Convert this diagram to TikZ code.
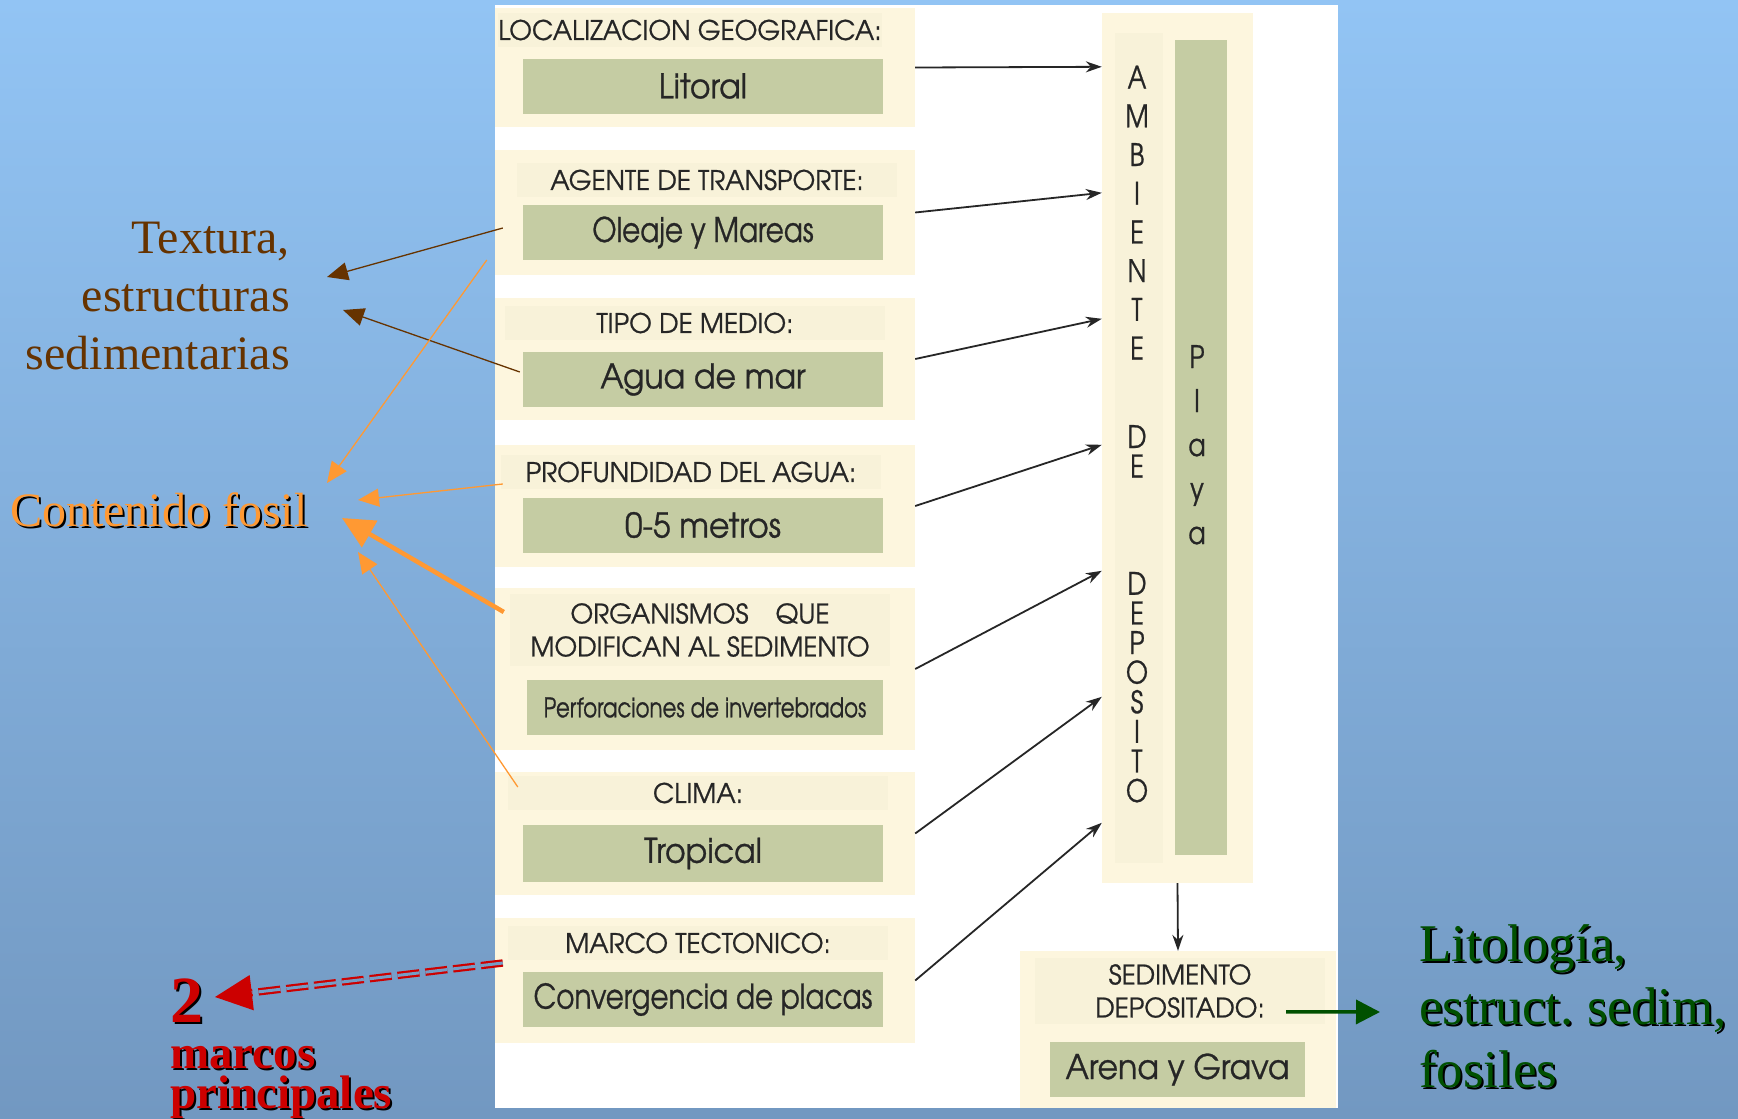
\documentclass[tikz,border=0pt]{standalone}
\usepackage{fontspec}
\setmainfont{Liberation Serif}
\newfontfamily\boxfont[FakeStretch=0.82, FakeBold=0.8]{TeX Gyre Adventor}
\newfontfamily\widefont[FakeStretch=0.93, FakeBold=0.8]{TeX Gyre Adventor}
\newfontfamily\headfont[FakeStretch=0.97, FakeBold=0.8]{TeX Gyre Adventor}
\newfontfamily\smallfont[FakeStretch=0.79, FakeBold=0.8]{TeX Gyre Adventor}
\usetikzlibrary{arrows.meta,calc}
\definecolor{creamc}{RGB}{253,246,222}
\definecolor{headc}{RGB}{248,242,217}
\definecolor{greenc}{RGB}{197,204,163}
\definecolor{brownc}{RGB}{102,51,0}
\definecolor{orangec}{RGB}{255,153,51}
\definecolor{redc}{RGB}{204,0,0}
\definecolor{dgreen}{RGB}{0,80,0}
\definecolor{bgtop}{RGB}{146,196,244}
\definecolor{bgbot}{RGB}{114,152,193}
\definecolor{bgred}{RGB}{117,157,198}
\newcommand{\shad}[1]{\leavevmode\rlap{\kern2pt\raisebox{-2pt}[0pt][0pt]{\color{black}#1}}#1}
\tikzset{
  cream/.style={fill=creamc, minimum width=420, inner sep=0},
  head/.style={fill=headc, minimum width=380, minimum height=34, inner sep=0, align=center,
    text=black!85, font=\headfont\fontsize{27}{33}\selectfont},
  field/.style={fill=greenc, minimum width=360, minimum height=55, inner sep=0,
    text=black!85, font=\widefont\fontsize{34}{34}\selectfont},
  vert/.style={inner sep=0, align=center, text=black!85},
  link/.style={-{Stealth[length=16,width=11]}, line width=1.8, black!85},
  note/.style={-{Triangle[length=21,width=18]}, line width=1.3},
}
\begin{document}
\begin{tikzpicture}[x=1pt,y=-1pt]
  \shade[top color=bgtop, bottom color=bgbot] (0,0) rectangle (1738,1118);
  \fill[white] (495,5) rectangle (1338,1108);

  \node[cream, minimum height=119] (loc) at (705,67.5) {};
  \node[head] (loch) at (690,30) {LOCALIZACION GEOGRAFICA:};
  \node[field] (locf) at (703,86) {Litoral};
  \node[cream, minimum height=125] (agen) at (705,212.5) {};
  \node[head] (agenh) at (707,180) {AGENTE DE TRANSPORTE:};
  \node[field, font=\boxfont\fontsize{34}{34}\selectfont] (agenf) at (703,232.5) {Oleaje y Mareas};
  \node[cream, minimum height=122] (medio) at (705,359) {};
  \node[head] (medioh) at (695,323) {TIPO DE MEDIO:};
  \node[field] (mediof) at (703,379.5) {Agua de mar};
  \node[cream, minimum height=122] (prof) at (705,506) {};
  \node[head] (profh) at (691,472) {PROFUNDIDAD DEL AGUA:};
  \node[field] (proff) at (703,525) {0-5 metros};
  \node[cream, minimum height=162] (org) at (705,669) {};
  \node[head, minimum height=72] (orgh) at (700,630) {ORGANISMOS\quad QUE\\MODIFICAN AL SEDIMENTO};
  \node[field, minimum width=356, font=\smallfont\fontsize{27}{27}\selectfont] (orgf) at (705,707.5) {Perforaciones de invertebrados};
  \node[cream, minimum height=123] (clima) at (705,833.5) {};
  \node[head] (climah) at (698,793) {CLIMA:};
  \node[field, minimum height=57] (climaf) at (703,853.5) {Tropical};
  \node[cream, minimum height=125] (marco) at (705,980.5) {};
  \node[head] (marcoh) at (698,943) {MARCO TECTONICO:};
  \node[field, font=\boxfont\fontsize{34}{34}\selectfont] (marcof) at (703,999.5) {Convergencia de placas};

  \node[cream, minimum width=151, minimum height=870] (amb) at (1177.5,448) {};
  \node[fill=headc, minimum width=48, minimum height=830, inner sep=0] (ambs) at (1139,448) {};
  \node[fill=greenc, minimum width=52, minimum height=815, inner sep=0] (playa) at (1201,447.5) {};
  \node[vert, anchor=base, font=\boxfont\fontsize{31}{38.7}\selectfont] (ambt) at (1137,359.5) {A\\M\\B\\I\\E\\N\\T\\E};
  \node[vert, anchor=base, font=\boxfont\fontsize{31}{29.5}\selectfont] (det) at (1137,477.5) {D\\E};
  \node[vert, anchor=base, font=\boxfont\fontsize{31}{29.6}\selectfont] (dept) at (1137,802) {D\\E\\P\\O\\S\\I\\T\\O};
  \node[vert, anchor=base, font=\boxfont\fontsize{31}{44}\selectfont] (playat) at (1197,544) {P\\l\\a\\y\\a};

  \node[cream, minimum width=316, minimum height=157] (sed) at (1178,1029.5) {};
  \node[head, minimum width=290, minimum height=66] (sedh) at (1180,991) {SEDIMENTO\\DEPOSITADO:};
  \node[field, minimum width=255] (sedf) at (1177.5,1069.5) {Arena y Grava};

  \foreach \b [count=\i] in {loc,agen,medio,prof,org,clima,marco}
    \draw[link] (\b.east) -- ($(amb.north west)+(0,{54+126*(\i-1)})$);
  \draw[link] (amb.south) -- (sed.north);

  \node[anchor=east, align=right, text=brownc, font=\fontsize{48}{58}\selectfont, inner sep=0] (tex) at (290,296) {Textura,\\estructuras\\sedimentarias};
  \node[anchor=west, text=orangec, font=\fontsize{48}{48}\selectfont, inner sep=0] (fos) at (10,510) {\shad{Contenido fosil}};
  \draw[note, brownc] ($(agen.west)+(8,15.5)$) -- ($(tex.east)+(37,-19)$);
  \draw[note, brownc] ($(medio.west)+(25,13)$) -- ($(tex.east)+(53,14)$);
  \draw[note, orangec] ($(agen.west)+(-8,47.5)$) -- ($(fos.west)+(317,-27)$);
  \draw[note, orangec] ($(prof.west)+(8,-22)$) -- ($(fos.west)+(348,-10)$);
  \draw[orangec, line width=4.5, -{Triangle[length=32,width=30]}] ($(org.west)+(9,-57)$) -- ($(fos.west)+(332,8)$);
  \draw[note, orangec] ($(clima.west)+(23,-46.5)$) -- ($(fos.west)+(348,42)$);

  \node[anchor=base west, text=redc, font=\bfseries\fontsize{66}{66}\selectfont, inner sep=0] (num) at (170,1022) {\shad{2}};
  \node[anchor=base west, align=left, text=redc, font=\bfseries\fontsize{47}{40}\selectfont, inner sep=0] (mar) at (170,1108) {\shad{marcos}\\\shad{principales}};
  \draw[redc, line width=2.2, double=bgred, double distance=3, dash pattern=on 22 off 6,
    -{Triangle[length=37,width=35]}] ($(marco.west)+(8,-17.5)$) -- ($(num.base west)+(45,-25)$);

  \node[anchor=west, align=left, text=dgreen, font=\fontsize{53}{63}\selectfont, inner sep=0] (lito) at (1419,1006) {\shad{Litología,}\\\shad{estruct.\ sedim,}\\\shad{fosiles}};
  \draw[dgreen, line width=3.5, -{Triangle[length=24,width=24]}] ($(sed.north)+(108,61)$) -- ($(lito.west)+(-39,6)$);
\end{tikzpicture}
\end{document}
